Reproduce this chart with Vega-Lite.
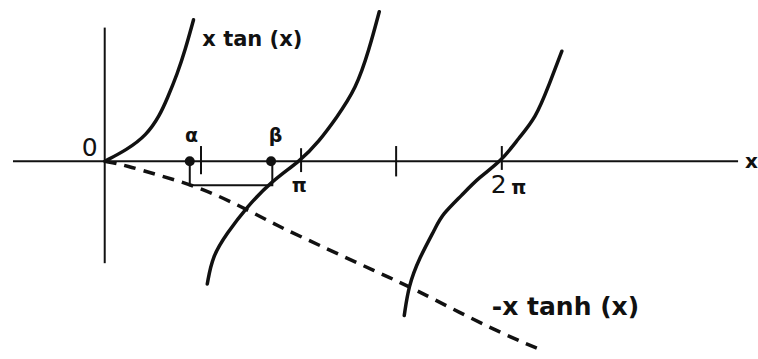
{
  "$schema": "https://vega.github.io/schema/vega-lite/v6.json",
  "width": 758,
  "height": 359,
  "autosize": {"type": "fit", "contains": "padding"},
  "padding": 0,
  "background": "white",
  "config": {"view": {"stroke": null}, "text": {"font": "DejaVu Sans", "fontWeight": "bold", "color": "#111"}},
  "datasets": {
    "curves": [
      {"series": "b1", "x": 0, "y": 0},
      {"series": "b1", "x": 0.35, "y": 0.52},
      {"series": "b1", "x": 0.67, "y": 1.2},
      {"series": "b1", "x": 0.88, "y": 2.11},
      {"series": "b1", "x": 1.0, "y": 2.89},
      {"series": "b1", "x": 1.16, "y": 4.02},
      {"series": "b1", "x": 1.29, "y": 5.16},
      {"series": "b1", "x": 1.42, "y": 6.52},
      {"series": "b2", "x": 1.64, "y": -5.66},
      {"series": "b2", "x": 1.72, "y": -4.39},
      {"series": "b2", "x": 1.95, "y": -3.34},
      {"series": "b2", "x": 2.27, "y": -2.11},
      {"series": "b2", "x": 2.68, "y": -0.89},
      {"series": "b2", "x": 3.13, "y": 0.02},
      {"series": "b2", "x": 3.43, "y": 0.93},
      {"series": "b2", "x": 3.7, "y": 1.98},
      {"series": "b2", "x": 4.02, "y": 3.34},
      {"series": "b2", "x": 4.23, "y": 5.16},
      {"series": "b2", "x": 4.39, "y": 6.89},
      {"series": "b3", "x": 4.79, "y": -7.11},
      {"series": "b3", "x": 4.86, "y": -5.75},
      {"series": "b3", "x": 5.02, "y": -4.52},
      {"series": "b3", "x": 5.3, "y": -3.02},
      {"series": "b3", "x": 5.39, "y": -2.48},
      {"series": "b3", "x": 5.71, "y": -1.57},
      {"series": "b3", "x": 5.98, "y": -0.75},
      {"series": "b3", "x": 6.35, "y": 0.02},
      {"series": "b3", "x": 6.62, "y": 1.07},
      {"series": "b3", "x": 6.89, "y": 1.98},
      {"series": "b3", "x": 7.1, "y": 3.48},
      {"series": "b3", "x": 7.31, "y": 5.07}
    ],
    "dashed": [
      {"x": 0, "y": 0},
      {"x": 0.35, "y": -0.2},
      {"x": 0.88, "y": -0.66},
      {"x": 1.52, "y": -1.2},
      {"x": 2.2, "y": -2.11},
      {"x": 2.79, "y": -3.02},
      {"x": 3.38, "y": -3.8},
      {"x": 4.39, "y": -5.16},
      {"x": 4.86, "y": -5.75},
      {"x": 6.19, "y": -7.75},
      {"x": 7.02, "y": -8.75}
    ],
    "bracket": [
      {"i": 0, "x": 1.36, "y": 0},
      {"i": 1, "x": 1.36, "y": -1.11},
      {"i": 2, "x": 2.68, "y": -1.11},
      {"i": 3, "x": 2.68, "y": 0}
    ],
    "ticks": [
      {"x": 1.54, "y1": 0.7, "y2": -0.6},
      {"x": 3.14, "y1": 0.6, "y2": -0.5},
      {"x": 4.66, "y1": 0.7, "y2": -0.7},
      {"x": 6.35, "y1": 0.7, "y2": -0.4}
    ],
    "points": [
      {"name": "alpha", "x": 1.36, "y": 0},
      {"name": "beta", "x": 2.66, "y": 0}
    ],
    "labels": [
      {"kind": "big", "text": "0", "x": -0.24, "y": 0.61},
      {"kind": "big", "text": "2", "x": 6.3, "y": -1.09},
      {"kind": "small", "text": "α", "x": 1.39, "y": 1.18},
      {"kind": "small", "text": "β", "x": 2.73, "y": 1.18},
      {"kind": "small", "text": "π", "x": 3.11, "y": -1.16},
      {"kind": "small", "text": "π", "x": 6.62, "y": -1.25},
      {"kind": "top", "text": "x tan (x)", "x": 1.56, "y": 5.57},
      {"kind": "bottom", "text": "-x tanh (x)", "x": 6.19, "y": -6.7},
      {"kind": "axis", "text": "x", "x": 10.24, "y": -0.02}
    ]
  },
  "layer": [
    {
      "data": {"values": [{"x1": -1.467, "x2": 10.128, "y": 0}]},
      "mark": {"type": "rule", "strokeWidth": 2, "color": "#111"},
      "encoding": {
        "x": {"field": "x1", "type": "quantitative", "scale": {"domain": [-1.6746, 10.4147], "nice": false, "zero": false}, "axis": null},
        "x2": {"field": "x2"},
        "y": {"field": "y", "type": "quantitative", "scale": {"domain": [-8.886, 7.432], "nice": false, "zero": false}, "axis": null}
      }
    },
    {
      "data": {"values": [{"x": 0, "y1": 6.16, "y2": -4.7}]},
      "mark": {"type": "rule", "strokeWidth": 2, "color": "#111"},
      "encoding": {
        "x": {"field": "x", "type": "quantitative"},
        "y": {"field": "y1", "type": "quantitative"},
        "y2": {"field": "y2"}
      }
    },
    {
      "data": {"name": "ticks"},
      "mark": {"type": "rule", "strokeWidth": 2, "color": "#111"},
      "encoding": {
        "x": {"field": "x", "type": "quantitative"},
        "y": {"field": "y1", "type": "quantitative"},
        "y2": {"field": "y2"}
      }
    },
    {
      "data": {"name": "bracket"},
      "mark": {"type": "line", "strokeWidth": 2, "color": "#111"},
      "encoding": {
        "x": {"field": "x", "type": "quantitative"},
        "y": {"field": "y", "type": "quantitative"},
        "order": {"field": "i"}
      }
    },
    {
      "data": {"name": "dashed"},
      "mark": {"type": "line", "strokeWidth": 3.5, "strokeDash": [12, 8], "color": "#111", "interpolate": "basis"},
      "encoding": {
        "x": {"field": "x", "type": "quantitative"},
        "y": {"field": "y", "type": "quantitative"}
      }
    },
    {
      "data": {"name": "curves"},
      "mark": {"type": "line", "strokeWidth": 3.5, "color": "#111", "interpolate": "basis", "strokeCap": "round"},
      "encoding": {
        "x": {"field": "x", "type": "quantitative"},
        "y": {"field": "y", "type": "quantitative"},
        "detail": {"field": "series"}
      }
    },
    {
      "data": {"name": "points"},
      "mark": {"type": "point", "filled": true, "size": 100, "color": "#111", "opacity": 1},
      "encoding": {
        "x": {"field": "x", "type": "quantitative"},
        "y": {"field": "y", "type": "quantitative"}
      }
    },
    {
      "data": {"name": "labels"},
      "transform": [{"filter": "datum.kind === 'big'"}],
      "mark": {"type": "text", "fontSize": 25, "fontWeight": "normal", "align": "center", "baseline": "middle"},
      "encoding": {
        "x": {"field": "x", "type": "quantitative"},
        "y": {"field": "y", "type": "quantitative"},
        "text": {"field": "text"}
      }
    },
    {
      "data": {"name": "labels"},
      "transform": [{"filter": "datum.kind === 'small'"}],
      "mark": {"type": "text", "fontSize": 19, "align": "center", "baseline": "middle"},
      "encoding": {
        "x": {"field": "x", "type": "quantitative"},
        "y": {"field": "y", "type": "quantitative"},
        "text": {"field": "text"}
      }
    },
    {
      "data": {"name": "labels"},
      "transform": [{"filter": "datum.kind === 'top'"}],
      "mark": {"type": "text", "fontSize": 21, "align": "left", "baseline": "middle"},
      "encoding": {
        "x": {"field": "x", "type": "quantitative"},
        "y": {"field": "y", "type": "quantitative"},
        "text": {"field": "text"}
      }
    },
    {
      "data": {"name": "labels"},
      "transform": [{"filter": "datum.kind === 'bottom'"}],
      "mark": {"type": "text", "fontSize": 25, "align": "left", "baseline": "middle"},
      "encoding": {
        "x": {"field": "x", "type": "quantitative"},
        "y": {"field": "y", "type": "quantitative"},
        "text": {"field": "text"}
      }
    },
    {
      "data": {"name": "labels"},
      "transform": [{"filter": "datum.kind === 'axis'"}],
      "mark": {"type": "text", "fontSize": 20, "align": "left", "baseline": "middle"},
      "encoding": {
        "x": {"field": "x", "type": "quantitative"},
        "y": {"field": "y", "type": "quantitative"},
        "text": {"field": "text"}
      }
    }
  ]
}
